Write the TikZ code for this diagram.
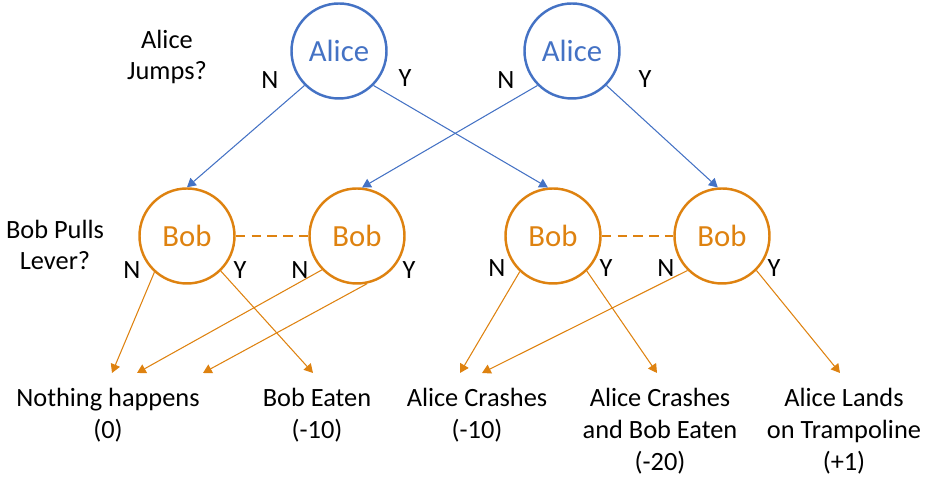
\documentclass[tikz,border=0pt]{standalone}
\usepackage{fontspec}
\setmainfont{Carlito}
\usepackage{xcolor}
\definecolor{gtblue}{RGB}{68,114,196}
\definecolor{gtorange}{RGB}{222,130,16}
\usetikzlibrary{arrows.meta,positioning}

\tikzset{
  alicenode/.style={circle, draw=gtblue, line width=1.4pt, minimum size=1.9cm,
    text=gtblue, font=\fontsize{17.5}{20}\selectfont, inner sep=0pt},
  bobnode/.style={circle, draw=gtorange, line width=1.4pt, minimum size=1.9cm,
    text=gtorange, font=\fontsize{17.5}{20}\selectfont, inner sep=0pt},
  choice/.style={font=\fontsize{15}{18}\selectfont, inner sep=0pt},
  outcome/.style={font=\fontsize{15}{18.2}\selectfont, align=center, inner sep=0pt, anchor=north},
  alicearrow/.style={gtblue, line width=0.6pt, -{Triangle[length=5pt,width=5.5pt]}},
  bobarrow/.style={gtorange, line width=0.6pt, -{Triangle[length=5pt,width=5.5pt]}},
  infoset/.style={gtorange, line width=1.4pt, dash pattern=on 5.5pt off 3.5pt}
}

\begin{document}
\begin{tikzpicture}
\useasboundingbox (0,0) rectangle (18.58,9.56);

% Alice decides
\node[alicenode] (alice1) at (6.78,8.54) {Alice};
\node[alicenode] (alice2) at (11.44,8.54) {Alice};
\node[choice, align=center] (askalice) at (3.34,8.42) {Alice\\Jumps?};

% Bob decides
\node[bobnode] (bob1) at (3.74,4.84) {Bob};
\node[bobnode] (bob2) at (7.14,4.84) {Bob};
\node[bobnode] (bob3) at (11.06,4.84) {Bob};
\node[bobnode] (bob4) at (14.44,4.84) {Bob};
\node[choice, align=center] (askbob) at (1.10,4.66) {Bob Pulls\\Lever?};

% Information sets
\draw[infoset] (bob1) -- (bob2);
\draw[infoset] (bob3) -- (bob4);

% Choice labels
\node[choice] (a1n) at (5.40,7.96) {N};
\node[choice] (a1y) at (8.10,8.00) {Y};
\node[choice] (a2n) at (10.12,7.96) {N};
\node[choice] (a2y) at (12.90,7.98) {Y};
\node[choice] (b1n) at (2.64,4.16) {N};
\node[choice] (b1y) at (4.80,4.16) {Y};
\node[choice] (b2n) at (6.00,4.16) {N};
\node[choice] (b2y) at (8.18,4.16) {Y};
\node[choice] (b3n) at (9.94,4.20) {N};
\node[choice] (b3y) at (12.12,4.20) {Y};
\node[choice] (b4n) at (13.32,4.20) {N};
\node[choice] (b4y) at (15.48,4.20) {Y};

% Outcomes
\node[outcome] (nothing) at (2.16,1.80) {Nothing happens\\(0)};
\node[outcome] (eaten) at (6.34,1.80) {Bob Eaten\\(-10)};
\node[outcome] (crash) at (9.54,1.80) {Alice Crashes\\(-10)};
\node[outcome] (crasheaten) at (13.20,1.80) {Alice Crashes\\and Bob Eaten\\(-20)};
\node[outcome] (lands) at (16.88,1.80) {Alice Lands\\on Trampoline\\(+1)};

% Arrow ends above the outcomes
\coordinate (nothing1) at (2.24,2.10);
\coordinate (nothing2) at (2.74,2.10);
\coordinate (nothing3) at (4.06,2.10);
\coordinate (eaten1) at (6.26,2.10);
\coordinate (crash1) at (9.20,2.10);
\coordinate (crash2) at (9.64,2.10);
\coordinate (crasheaten1) at (13.14,2.10);
\coordinate (lands1) at (16.80,2.10);

% Alice arrows
\draw[alicearrow] (alice1.-135) -- (bob1.north);
\draw[alicearrow] (alice1.-45) -- (bob3.96);
\draw[alicearrow] (alice2.-135) -- (bob2.84);
\draw[alicearrow] (alice2.-45) -- (bob4.95);

% Bob arrows
\draw[bobarrow] (bob1.-132) -- (nothing1);
\draw[bobarrow] (bob1.-46) -- (eaten1);
\draw[bobarrow] (bob2.-136) -- (nothing2);
\draw[bobarrow] (bob2.-78) -- (nothing3);
\draw[bobarrow] (bob3.-133) -- (crash1);
\draw[bobarrow] (bob3.-46) -- (crasheaten1);
\draw[bobarrow] (bob4.-135) -- (crash2);
\draw[bobarrow] (bob4.-45) -- (lands1);

\end{tikzpicture}
\end{document}
